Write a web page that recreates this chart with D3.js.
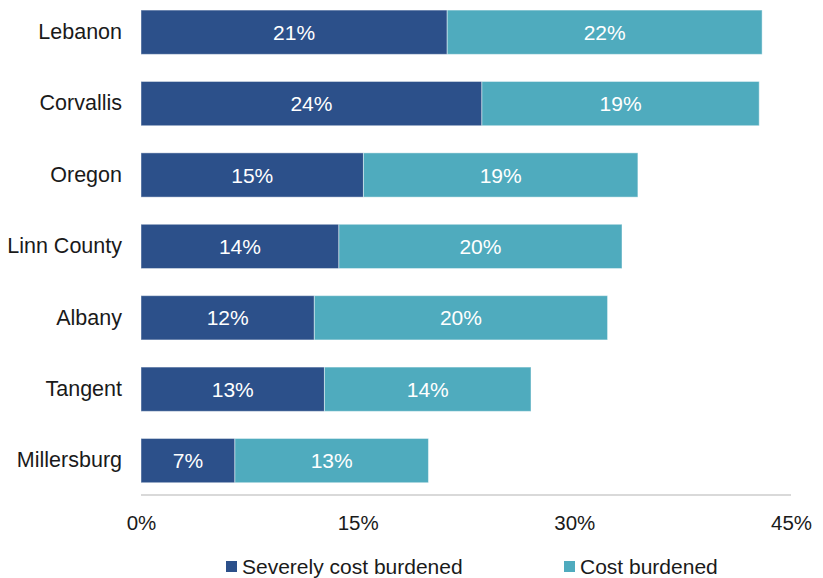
<!DOCTYPE html>
<html>
<head>
<meta charset="utf-8">
<script src="https://cdn.jsdelivr.net/npm/d3@7"></script>
<style>
  body { margin: 0; background: #fff; }
  svg text { font-family: "Liberation Sans", Arial, sans-serif; }
</style>
</head>
<body>
<div id="chart"></div>
<script>
// data
var places = ["Lebanon", "Corvallis", "Oregon", "Linn County", "Albany", "Tangent", "Millersburg"];
var severe = [21.2, 23.6, 15.4, 13.7, 12.0, 12.7, 6.5];
var burdened = [21.8, 19.2, 19.0, 19.6, 20.3, 14.3, 13.4];
var seriesNames = ["Severely cost burdened", "Cost burdened"];
var seriesColors = ["#2C508A", "#4FABBE"];
var xTicks = [0, 15, 30, 45];

var width = 823,
  height = 578;

var svg = d3
  .select("#chart")
  .append("svg")
  .attr("width", width)
  .attr("height", height);

var rows = places.map(function(p, i) {
  return { place: p, severe: severe[i], burdened: burdened[i] };
});

var stack = d3.stack().keys(["severe", "burdened"]);
var layers = stack(rows);

var xScale = d3.scaleLinear().domain([0, 45]).range([141, 791]);

var yScale = d3
  .scaleBand()
  .domain(places)
  .range([-3.5, 496.3])
  .paddingInner(0.38)
  .paddingOuter(0.19);

// bars
var layerG = svg
  .selectAll(".layer")
  .data(layers)
  .enter()
  .append("g")
  .attr("class", "layer")
  .attr("fill", function(d, i) {
    return seriesColors[i];
  });

layerG
  .selectAll("rect")
  .data(function(d) {
    return d;
  })
  .enter()
  .append("rect")
  .attr("x", function(d) {
    return xScale(d[0]);
  })
  .attr("y", function(d) {
    return yScale(d.data.place);
  })
  .attr("width", function(d) {
    return xScale(d[1]) - xScale(d[0]);
  })
  .attr("height", yScale.bandwidth())
  .attr("stroke", "#fff")
  .attr("stroke-opacity", 0.45)
  .attr("stroke-width", 1);

// value labels
layerG
  .selectAll("text")
  .data(function(d) {
    return d;
  })
  .enter()
  .append("text")
  .attr("x", function(d) {
    return (xScale(d[0]) + xScale(d[1])) / 2;
  })
  .attr("y", function(d) {
    return yScale(d.data.place) + yScale.bandwidth() / 2;
  })
  .attr("dy", "0.36em")
  .attr("text-anchor", "middle")
  .attr("fill", "#fff")
  .style("font-size", "21px")
  .text(function(d) {
    return Math.round(d[1] - d[0]) + "%";
  });

// category axis (labels + baseline)
var yAxis = svg
  .append("g")
  .attr("transform", "translate(141,0)")
  .call(d3.axisLeft(yScale).tickSize(0).tickPadding(19));
yAxis.select(".domain").remove();
yAxis
  .selectAll("text")
  .style("font-size", "21.5px")
  .attr("fill", "#1a1a1a");

svg
  .append("line")
  .attr("x1", xScale(0))
  .attr("x2", xScale(45))
  .attr("y1", 495)
  .attr("y2", 495)
  .attr("stroke", "#d9d9d9")
  .attr("stroke-width", 2);

// value axis
var xAxis = svg
  .append("g")
  .attr("transform", "translate(0,515)")
  .call(
    d3
      .axisBottom(xScale)
      .tickValues(xTicks)
      .tickSize(0)
      .tickPadding(0)
      .tickFormat(function(d) {
        return d + "%";
      })
  );
xAxis.select(".domain").remove();
xAxis
  .selectAll("text")
  .style("font-size", "20.5px")
  .attr("fill", "#1a1a1a");

// legend
var legendX = [226, 564];
var legend = svg
  .selectAll(".legend")
  .data(seriesNames)
  .enter()
  .append("g")
  .attr("class", "legend")
  .attr("transform", function(d, i) {
    return "translate(" + legendX[i] + ",561)";
  });

legend
  .append("rect")
  .attr("width", 11)
  .attr("height", 11)
  .attr("fill", function(d, i) {
    return seriesColors[i];
  });

legend
  .append("text")
  .attr("x", 16)
  .attr("y", 5.5)
  .attr("dy", "0.34em")
  .style("font-size", "21px")
  .attr("fill", "#1a1a1a")
  .text(function(d) {
    return d;
  });
</script>
</body>
</html>
